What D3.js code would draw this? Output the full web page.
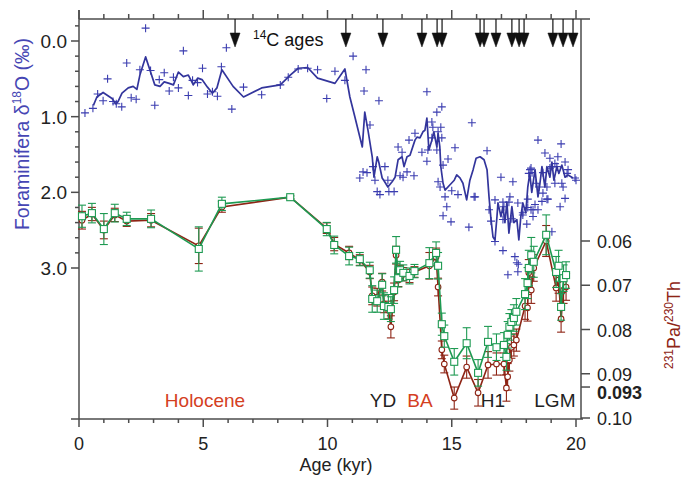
<!DOCTYPE html>
<html>
<head>
<meta charset="utf-8">
<script src="https://cdn.jsdelivr.net/npm/d3@7"></script>
<style>
  body { margin: 0; background: #fff; }
  svg text { font-family: "Liberation Sans", Arial, sans-serif; }
</style>
</head>
<body>
<div id="chart"></div>
<script>
// foraminifera d18O, single measurements (crosses)
var crossAge = [0.24,0.56,0.75,0.97,1.15,1.37,1.5,1.72,1.92,2.1,2.3,2.45,2.68,2.88,3.05,3.23,3.43,3.63,3.8,4.0,
  4.2,4.4,4.57,4.77,4.97,5.17,5.37,5.57,5.73,5.93,6.15,6.62,7.35,8.1,8.42,8.82,9.2,9.6,9.97,10.3,
  10.7,11.03,11.55,11.47,12.07,11.71,14.0,14.4,14.6,15.13,11.43,11.59,11.3,11.83,11.91,12.31,12.0,12.11,12.47,12.68,
  12.43,12.92,13.04,13.2,13.48,12.84,13.0,13.28,13.52,13.8,14.0,14.04,14.2,14.24,14.45,14.56,14.45,14.53,14.65,14.85,
  14.73,14.2,14.6,14.4,14.8,14.65,14.97,15.69,15.81,16.42,15.9,15.25,15.0,16.98,17.46,18.47,19.4,18.75,19.36,18.87,
  16.5,16.74,17.06,17.34,17.66,17.86,18.06,18.27,18.23,18.15,18.67,18.95,19.23,19.64,20.0,19.48,19.56,18.67,16.74,17.06,
  17.54,17.62,17.68,18.02,18.27,18.47,18.83,18.19,17.3,17.86,17.1,17.06,17.42,18.35,18.06,18.63,18.95,19.15,19.56,19.68,
  19.96,18.19,18.1,18.39,18.51,19.03,19.27,19.43,19.15,18.83,15.94,16.58,17.26,17.66,19.03];
var crossD18O = [0.95,0.89,0.70,0.79,0.50,0.80,0.83,0.87,0.29,0.75,0.77,0.38,-0.17,0.39,0.85,0.51,0.42,0.66,0.48,0.62,
  0.13,0.72,0.52,0.55,0.36,0.70,0.67,0.73,0.34,0.09,0.90,0.61,0.71,0.58,0.48,0.37,0.36,0.38,0.76,0.40,
  0.52,0.20,0.38,0.66,0.79,1.11,0.67,0.94,0.87,1.41,1.73,1.74,1.81,1.66,1.84,1.66,1.99,2.03,1.99,1.99,
  1.84,1.78,1.80,1.73,1.78,1.40,1.47,1.31,1.22,1.47,1.59,1.44,1.07,1.14,1.20,1.14,1.86,1.93,1.64,1.56,
  2.06,1.28,1.28,1.44,2.19,2.31,2.39,2.46,1.08,1.45,2.06,2.03,1.98,1.80,1.86,1.31,1.36,1.48,2.19,2.09,
  2.23,2.10,2.13,2.06,2.14,2.27,2.20,2.23,1.74,1.70,1.74,1.68,1.66,1.75,1.84,1.93,2.08,2.01,2.65,2.77,
  2.85,2.93,2.95,2.42,2.32,2.23,2.09,2.23,2.13,2.30,2.19,2.36,2.35,2.16,2.09,2.12,1.55,1.62,1.60,1.70,
  1.81,1.68,1.75,1.88,1.93,1.66,1.53,1.88,1.88,1.93,2.06,2.38,3.09,3.05,2.52];

// foraminifera d18O, smoothed record (line)
var lineAge = [0.58,0.72,0.97,1.33,1.48,1.57,1.73,1.98,2.18,2.33,2.45,2.68,2.88,3.05,3.26,3.43,3.63,3.8,4.0,4.2,
  4.4,4.6,4.78,4.95,5.17,5.37,5.55,5.75,6.2,6.62,7.35,8.1,8.5,8.82,9.2,9.6,10.3,10.7,10.9,11.1,
  11.4,11.5,11.63,11.8,11.87,12.0,12.07,12.2,12.3,12.43,12.6,12.72,12.84,13.0,13.08,13.2,13.32,13.52,13.6,13.72,
  13.84,13.92,14.0,14.08,14.2,14.28,14.4,14.45,14.52,14.56,14.65,14.73,14.93,15.1,15.2,15.33,15.45,15.6,15.73,15.86,
  15.98,16.14,16.3,16.42,16.5,16.58,16.66,16.74,16.82,16.86,16.98,17.06,17.14,17.22,17.3,17.42,17.5,17.62,17.7,17.78,
  17.86,17.98,18.06,18.14,18.22,18.35,18.47,18.55,18.63,18.75,18.83,18.95,19.03,19.11,19.23,19.31,19.43,19.56,19.68,19.88];
var lineD18O = [0.85,0.74,0.68,0.76,0.83,0.80,0.69,0.62,0.60,0.64,0.45,0.21,0.41,0.58,0.60,0.54,0.56,0.58,0.41,0.47,
  0.45,0.58,0.49,0.51,0.61,0.69,0.62,0.38,0.60,0.74,0.62,0.58,0.45,0.36,0.35,0.49,0.56,0.37,0.74,1.00,
  1.40,0.94,1.18,1.53,1.80,1.53,1.61,1.81,1.86,1.93,1.86,1.80,1.57,1.53,1.66,1.53,1.51,1.31,1.27,1.28,
  1.20,1.18,1.02,1.44,1.31,1.20,1.40,1.22,1.40,1.66,1.88,1.97,1.90,1.84,1.77,1.81,1.88,2.10,1.84,1.70,
  1.55,1.53,1.57,1.70,2.06,2.36,2.59,2.63,2.32,2.14,2.32,2.19,2.40,2.13,2.54,2.19,2.40,2.36,2.63,2.32,
  2.14,2.27,1.93,1.75,2.00,1.70,2.06,1.88,1.66,1.93,1.66,1.80,1.60,1.84,1.66,1.75,1.64,1.80,1.77,1.81];

// 231Pa/230Th
var paAge = [0.12,0.52,1.0,1.44,1.92,2.9,4.82,5.75,8.5,9.97,10.27,10.87,11.3,11.7,11.8,12.0,12.2,12.27,12.45,12.55,
  12.68,12.76,12.85,12.92,13.05,13.3,13.5,14.1,14.37,14.45,14.6,14.7,15.1,15.6,16.06,16.46,16.8,17.1,17.2,17.25,
  17.32,17.4,17.5,17.6,17.95,18.05,18.1,18.2,18.3,18.8,19.2,19.3,19.4,19.5,19.6];
var paGreen = [0.0544,0.0537,0.0573,0.0537,0.0550,0.0550,0.0618,0.0516,0.0501,0.0573,0.0609,0.0634,0.0641,0.0666,0.0731,0.0736,0.0699,0.0747,0.0749,0.0754,
  0.0711,0.0620,0.0684,0.0666,0.0672,0.0679,0.0668,0.0650,0.0627,0.0656,0.0788,0.0815,0.0873,0.0831,0.0898,0.0828,0.0840,0.0835,0.0862,0.0812,
  0.0794,0.0783,0.0774,0.0760,0.0720,0.0695,0.0661,0.0632,0.0647,0.0586,0.0670,0.0656,0.0749,0.0684,0.0677];
var paGreenErr = [0.0025,0.0022,0.0035,0.0020,0.0015,0.0020,0.0050,0.0015,0.0003,0.0015,0.0020,0.0020,0.0015,0.0018,0.0030,0.0025,0.0025,0.0030,0.0028,0.0028,
  0.0030,0.0030,0.0020,0.0020,0.0018,0.0018,0.0015,0.0035,0.0025,0.0030,0.0025,0.0025,0.0030,0.0035,0.0030,0.0035,0.0030,0.0028,0.0030,0.0030,
  0.0030,0.0028,0.0030,0.0030,0.0035,0.0035,0.0040,0.0040,0.0035,0.0045,0.0035,0.0035,0.0030,0.0030,0.0030];
var paRed = [0.0553,0.0539,0.0575,0.0541,0.0555,0.0553,0.0611,0.0523,0.0501,0.0571,0.0607,0.0627,0.0643,0.0670,0.0724,0.0727,0.0693,0.0742,0.0756,0.0794,
  0.0715,0.0632,0.0688,0.0670,0.0675,0.0679,0.0670,0.0656,0.0636,0.0704,0.0846,0.0878,0.0955,0.0885,0.0943,0.0880,0.0878,0.0878,0.0932,0.0907,
  0.0869,0.0840,0.0835,0.0824,0.0747,0.0751,0.0672,0.0711,0.0661,0.0600,0.0706,0.0688,0.0776,0.0711,0.0704];
var paRedErr = [0.0020,0.0015,0.0020,0.0015,0.0012,0.0015,0.0040,0.0012,0.0003,0.0012,0.0015,0.0015,0.0012,0.0015,0.0020,0.0020,0.0020,0.0020,0.0020,0.0025,
  0.0020,0.0020,0.0015,0.0015,0.0015,0.0015,0.0012,0.0030,0.0020,0.0020,0.0020,0.0020,0.0025,0.0025,0.0030,0.0030,0.0025,0.0025,0.0030,0.0030,
  0.0025,0.0025,0.0025,0.0025,0.0030,0.0030,0.0030,0.0030,0.0030,0.0035,0.0030,0.0030,0.0030,0.0030,0.0030];

// radiocarbon dated levels
var c14Ages = [6.28,10.74,12.23,13.8,14.41,14.61,16.14,16.3,16.78,17.42,17.71,17.91,19.07,19.48,19.88];

var ageTicks = [0,5,10,15,20];
var d18oTicks = [0,1,2,3];
var paTicks = [0.06,0.07,0.08,0.09,0.093,0.10];

var W = 685, H = 478;
var blue = '#33359c', green = '#1e9a52', red = '#8e2415', axisCol = '#4d4d4d';

var svg = d3.select('#chart').append('svg').attr('width', W).attr('height', H);

var x = d3.scaleLinear().domain([0, 20]).range([79, 576]);
var yL = d3.scaleLinear().domain([0, 3]).range([41, 268]);
var yR = d3.scaleLinear().domain([0.06, 0.10]).range([241, 418]);
var plotTop = 19, plotBottom = 419, plotRight = 581;

// frame lines
var frame = svg.append('g').attr('stroke', axisCol).attr('stroke-width', 1.5);
frame.append('line').attr('x1', 71).attr('x2', 583).attr('y1', plotBottom).attr('y2', plotBottom);
frame.append('line').attr('x1', x(0)).attr('x2', 590).attr('y1', plotTop).attr('y2', plotTop);
frame.append('line').attr('x1', x(0)).attr('x2', x(0)).attr('y1', 10).attr('y2', plotBottom);
frame.append('line').attr('x1', plotRight).attr('x2', plotRight).attr('y1', plotTop).attr('y2', plotBottom);

// age axes (bottom ticks point down, top ticks point up)
var minorAge = d3.range(0, 21, 1);
var ticksG = svg.append('g').attr('stroke', axisCol).attr('stroke-width', 1.5);
ticksG.selectAll('.bt').data(minorAge).enter().append('line')
  .attr('x1', d => x(d)).attr('x2', d => x(d))
  .attr('y1', plotBottom).attr('y2', d => plotBottom + (d % 5 === 0 ? 8 : 4));
ticksG.selectAll('.tt').data(minorAge).enter().append('line')
  .attr('x1', d => x(d)).attr('x2', d => x(d))
  .attr('y1', plotTop).attr('y2', d => plotTop - (d % 5 === 0 ? 9 : 5));

// left d18O ticks
var minorD = d3.range(-0.2, 3.01, 0.2);
ticksG.selectAll('.lt').data(minorD).enter().append('line')
  .attr('x1', x(0)).attr('x2', d => x(0) - (Math.abs(d - Math.round(d)) < 1e-6 ? 8 : 4))
  .attr('y1', d => yL(d)).attr('y2', d => yL(d));

// right Pa/Th ticks
ticksG.selectAll('.rt').data(paTicks).enter().append('line')
  .attr('x1', plotRight).attr('x2', plotRight + 9)
  .attr('y1', d => yR(d)).attr('y2', d => yR(d));

var lab = svg.append('g').attr('font-size', 18).attr('fill', '#222');
lab.selectAll('.bl').data(ageTicks).enter().append('text')
  .attr('x', d => x(d)).attr('y', 450).attr('text-anchor', 'middle').text(d => d);
lab.selectAll('.ll').data(d18oTicks).enter().append('text')
  .attr('x', 67).attr('y', d => yL(d) + 7).attr('text-anchor', 'end').attr('font-size', 19)
  .text(d => d3.format('.1f')(d));
lab.selectAll('.rl').data(paTicks).enter().append('text')
  .attr('x', 597).attr('y', d => yR(d) + (d === 0.093 ? 12 : 7))
  .attr('font-weight', d => d === 0.093 ? 'bold' : null)
  .text(d => d === 0.093 ? '0.093' : d3.format('.2f')(d));

svg.append('text').attr('x', 336).attr('y', 471).attr('text-anchor', 'middle')
  .attr('font-size', 18).attr('fill', '#222').text('Age (kyr)');

var leftTitle = svg.append('text').attr('transform', 'translate(29,134) rotate(-90)')
  .attr('text-anchor', 'middle').attr('font-size', 19.5).attr('fill', '#4646b4');
leftTitle.append('tspan').text('Foraminifera  \u03b4');
leftTitle.append('tspan').attr('font-size', 12).attr('dy', -8).text('18');
leftTitle.append('tspan').attr('dy', 8).text('O (\u2030)');

var rightTitle = svg.append('text').attr('transform', 'translate(680,325) rotate(-90)')
  .attr('text-anchor', 'middle').attr('font-size', 18).attr('fill', red);
rightTitle.append('tspan').attr('font-size', 12).attr('dy', -7).text('231');
rightTitle.append('tspan').attr('dy', 7).text('Pa/');
rightTitle.append('tspan').attr('font-size', 12).attr('dy', -7).text('230');
rightTitle.append('tspan').attr('dy', 7).text('Th');

// 14C arrows
var arrows = svg.append('g').attr('fill', '#111').attr('stroke', '#111');
arrows.selectAll('line').data(c14Ages).enter().append('line')
  .attr('x1', d => x(d)).attr('x2', d => x(d)).attr('y1', plotTop).attr('y2', 34).attr('stroke-width', 1.2);
arrows.selectAll('path').data(c14Ages).enter().append('path')
  .attr('stroke-width', 0.5)
  .attr('d', d => 'M' + (x(d) - 5) + ',33L' + (x(d) + 5) + ',33L' + x(d) + ',47Z');

var c14 = svg.append('text').attr('x', 253).attr('y', 46).attr('font-size', 18).attr('fill', '#111');
c14.append('tspan').attr('font-size', 12).attr('dy', -7).text('14');
c14.append('tspan').attr('dy', 7).text('C ages');

// period labels
var periods = svg.append('g').attr('font-size', 19).attr('text-anchor', 'middle');
periods.append('text').attr('x', x(5.07)).attr('y', 407).attr('fill', '#d4401f').text('Holocene');
periods.append('text').attr('x', x(12.23)).attr('y', 407).attr('fill', '#222').text('YD');
periods.append('text').attr('x', x(13.72)).attr('y', 407).attr('fill', '#d4401f').text('BA');
periods.append('text').attr('x', x(16.66)).attr('y', 407).attr('fill', '#222').text('H1');
periods.append('text').attr('x', x(19.15)).attr('y', 407).attr('fill', '#222').text('LGM');

// d18O crosses and line
var crosses = svg.append('g').attr('stroke', '#3b3db0').attr('stroke-width', 1.1);
crosses.selectAll('path').data(d3.range(crossAge.length)).enter().append('path')
  .attr('d', i => {
    var cx = x(crossAge[i]), cy = yL(crossD18O[i]);
    return 'M' + (cx - 4) + ',' + cy + 'H' + (cx + 4) + 'M' + cx + ',' + (cy - 4) + 'V' + (cy + 4);
  });
svg.append('path').datum(d3.range(lineAge.length))
  .attr('fill', 'none').attr('stroke', blue).attr('stroke-width', 1.7).attr('stroke-linejoin', 'round')
  .attr('d', d3.line().x(i => x(lineAge[i])).y(i => yL(lineD18O[i])));

// Pa/Th series: red under green
function series(vals, errs, col, marker) {
  var g = svg.append('g');
  var idx = d3.range(paAge.length);
  var eb = g.append('g').attr('stroke', col).attr('stroke-width', 1.1);
  eb.selectAll('.v').data(idx).enter().append('line')
    .attr('x1', i => x(paAge[i])).attr('x2', i => x(paAge[i]))
    .attr('y1', i => yR(vals[i] - errs[i])).attr('y2', i => yR(vals[i] + errs[i]));
  [-1, 1].forEach(s => {
    eb.selectAll('.c' + s).data(idx).enter().append('line')
      .attr('x1', i => x(paAge[i]) - 4).attr('x2', i => x(paAge[i]) + 4)
      .attr('y1', i => yR(vals[i] + s * errs[i])).attr('y2', i => yR(vals[i] + s * errs[i]));
  });
  g.append('path').datum(idx).attr('fill', 'none').attr('stroke', col).attr('stroke-width', 1.6)
    .attr('d', d3.line().x(i => x(paAge[i])).y(i => yR(vals[i])));
  var m = g.append('g').attr('fill', '#fff').attr('stroke', col).attr('stroke-width', 1.1);
  if (marker === 'square') {
    m.selectAll('rect').data(idx).enter().append('rect')
      .attr('x', i => x(paAge[i]) - 3.5).attr('y', i => yR(vals[i]) - 3.5)
      .attr('width', 7).attr('height', 7);
  } else {
    m.selectAll('circle').data(idx).enter().append('circle')
      .attr('cx', i => x(paAge[i])).attr('cy', i => yR(vals[i])).attr('r', 2.8);
  }
}
series(paRed, paRedErr, red, 'circle');
series(paGreen, paGreenErr, green, 'square');
</script>
</body>
</html>
